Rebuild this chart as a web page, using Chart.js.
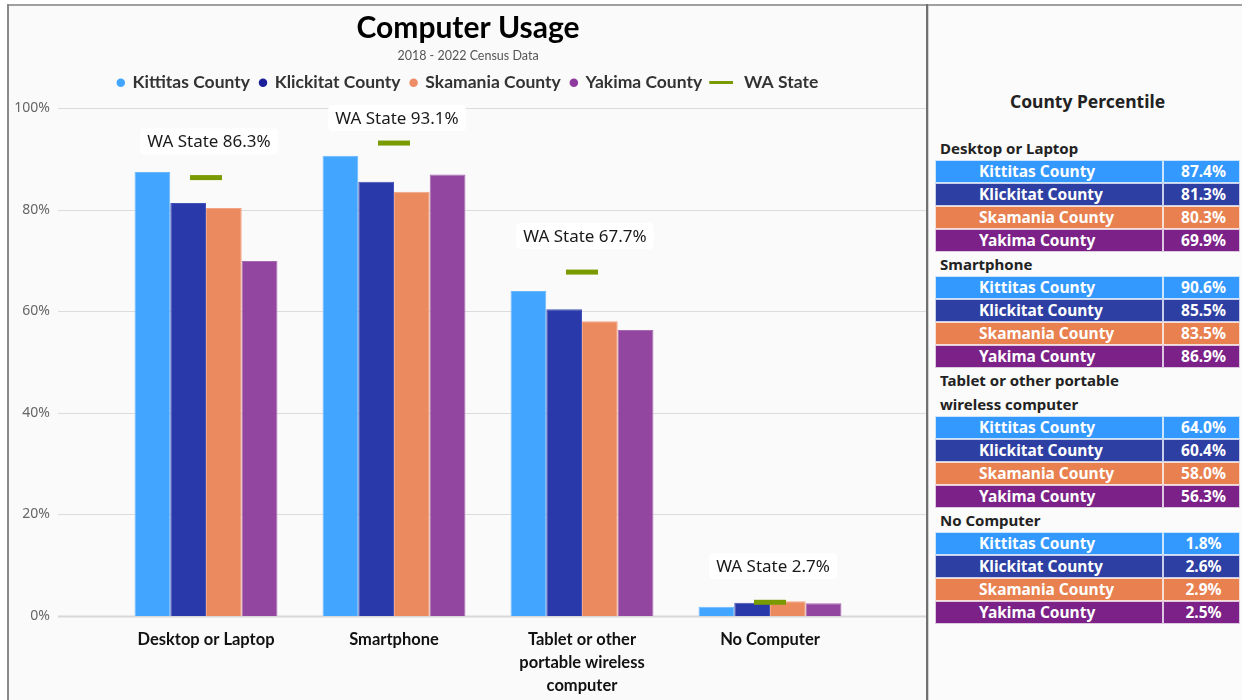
<!DOCTYPE html>
<html>
<head>
<meta charset="utf-8">
<title>Computer Usage</title>
<script src="https://cdn.jsdelivr.net/npm/chart.js@4.4.1/dist/chart.umd.min.js"></script>
<style>
  html, body { margin:0; padding:0; background:#fff; }
  body { width:1242px; height:700px; position:relative; overflow:hidden; font-family:"Noto Sans", sans-serif; }
  #frameTop { position:absolute; left:8px; top:4px; width:1234px; height:2px; background:#a0a0a0; }
  #frameLeft { position:absolute; left:7px; top:4px; width:2px; height:696px; background:#8a8a8a; }
  #leftPanel { position:absolute; left:9px; top:6px; width:917px; height:694px; background:#fafafa; }
  #divider { position:absolute; left:926px; top:4px; width:2px; height:696px; background:#707070; }
  #divider2 { position:absolute; left:928px; top:6px; width:1px; height:694px; background:#d0d0d0; }
  #rightPanel { position:absolute; left:929px; top:6px; width:313px; height:694px; background:#fbfbfb; }
  #chartBox { position:absolute; left:10px; top:6px; width:916px; height:694px; }
  #tbl { position:absolute; left:935px; top:85px; width:305px; }
  #tbl .title { height:32px; line-height:32px; text-align:center; font-size:17.5px; font-weight:bold; color:#222; margin-bottom:19px; }
  #tbl .head { font-size:15px; font-weight:bold; color:#222; line-height:24px; padding-left:5px; width:215px; }
  #tbl .row { display:flex; height:23px; }
  #tbl .name, #tbl .val { box-sizing:border-box; height:23px; line-height:21px; color:#fff; font-weight:bold; font-size:15.5px; border:1px solid rgba(255,255,255,0.75); }
  #tbl .name { width:228px; padding-left:43px; }
  #tbl .val { width:77px; text-align:center; padding-left:4px; }
</style>
</head>
<body>
<div id="leftPanel"></div>
<div id="rightPanel"></div>
<div id="frameTop"></div>
<div id="frameLeft"></div>
<div id="divider"></div>
<div id="divider2"></div>
<div id="chartBox"><canvas id="usageChart" width="916" height="694"></canvas></div>
<div id="tbl"></div>
<script>
// ================= DATA ==================
const categories = ["Desktop or Laptop", "Smartphone", "Tablet or other portable wireless computer", "No Computer"];
const tickLabels = [["Desktop or Laptop"], ["Smartphone"], ["Tablet or other", "portable wireless", "computer"], ["No Computer"]];
const counties = ["Kittitas County", "Klickitat County", "Skamania County", "Yakima County"];
const kittitas  = [87.4, 90.6, 64.0, 1.8];
const klickitat = [81.3, 85.5, 60.4, 2.6];
const skamania  = [80.3, 83.5, 58.0, 2.9];
const yakima    = [69.9, 86.9, 56.3, 2.5];
const waState   = [86.3, 93.1, 67.7, 2.7];
const yTicks    = [0, 20, 40, 60, 80, 100];

// colours
const barColors    = ["#42a5ff", "#2a39a9", "#ec8a5f", "#93469f"];
const barBorders   = ["#6ab8ff", "#4352b6", "#f2a383", "#a868b2"];
const legendColors = ["#42a5ff", "#1c1f9a", "#ee8c66", "#8e3a9e"];
const tableColors  = ["#3399ff", "#2e3fa3", "#e8804f", "#7b2187"];
const waColor = "#7a9a01";

const seriesValues = [kittitas, klickitat, skamania, yakima];
const FONT = "'Noto Sans', sans-serif";
const FONT2 = "Lato, 'Noto Sans', sans-serif";

// ================= LEGEND LINE ICON ==================
// transparent on the left so the line sits clear of the previous item
const lineIcon = document.createElement("canvas");
lineIcon.width = 36; lineIcon.height = 3;
(function(){
  const c = lineIcon.getContext("2d");
  c.fillStyle = waColor;
  c.fillRect(12, 0, 24, 3);
})();

// ================= PLUGINS ==================
const gridPlugin = {
  id: "wideGrid",
  beforeDatasetsDraw(chart){
    const ctx = chart.ctx, y = chart.scales.y;
    ctx.save();
    yTicks.forEach(v=>{
      const py = Math.round(y.getPixelForValue(v)) + 0.5;
      ctx.strokeStyle = v === 0 ? "#d8d8d8" : "#dcdcdc";
      ctx.lineWidth = v === 0 ? 2 : 1;
      ctx.beginPath();
      ctx.moveTo(48, py);
      ctx.lineTo(916, py);
      ctx.stroke();
    });
    ctx.restore();
  }
};

const waLabelPlugin = {
  id: "waLabels",
  afterDatasetsDraw(chart){
    const ctx = chart.ctx;
    const meta = chart.getDatasetMeta(4);
    ctx.save();
    ctx.font = "17px " + FONT;
    ctx.textAlign = "center";
    ctx.textBaseline = "middle";
    meta.data.forEach((pt, i)=>{
      const txt = "WA State " + waState[i].toFixed(1) + "%";
      const w = ctx.measureText(txt).width + 14;
      const cx = pt.x + 3;
      const cy = Math.max(pt.y - 36, chart.chartArea.top + 10);
      ctx.fillStyle = "#ffffff";
      ctx.beginPath();
      ctx.roundRect(cx - w/2, cy - 13, w, 26, 4);
      ctx.fill();
      ctx.fillStyle = "#1a1a1a";
      ctx.fillText(txt, cx, cy + 1);
    });
    ctx.restore();
  }
};

// ================= CHART ==================
const barSets = counties.map((name, i)=>({
  type: "bar",
  label: name,
  data: seriesValues[i],
  backgroundColor: barColors[i],
  borderColor: barBorders[i],
  borderWidth: 1,
  order: 1,
  categoryPercentage: 0.76,
  barPercentage: 1.0
}));

const chart = new Chart(document.getElementById("usageChart"), {
  data: {
    labels: tickLabels,
    datasets: [
      ...barSets,
      {
        type: "line",
        label: "WA State",
        data: waState,
        showLine: false,
        pointStyle: "line",
        pointRadius: 16,
        pointHoverRadius: 16,
        pointBorderWidth: 5,
        borderColor: waColor,
        backgroundColor: waColor,
        order: 0
      }
    ]
  },
  options: {
    responsive: false,
    maintainAspectRatio: false,
    animation: false,
    events: [],
    layout: { padding: 0 },
    plugins: {
      title: {
        display: true,
        text: "Computer Usage",
        color: "#000",
        font: { family: FONT2, size: 30, weight: "bold" },
        padding: { top: 4, bottom: 0 }
      },
      subtitle: {
        display: true,
        text: "2018 - 2022 Census Data",
        color: "#555",
        font: { family: FONT2, size: 12.5 },
        padding: { top: 2, bottom: 1 }
      },
      legend: {
        display: true,
        labels: {
          usePointStyle: true,
          boxWidth: 6,
          boxHeight: 6,
          padding: 10,
          color: "#333",
          font: { family: FONT2, size: 17.5, weight: "bold" },
          generateLabels(ch){
            return ch.data.datasets.map((ds, i)=>{
              const isWa = i === 4;
              return {
                text: isWa ? "    WA State" : ds.label,
                fillStyle: isWa ? waColor : legendColors[i],
                strokeStyle: isWa ? waColor : legendColors[i],
                lineWidth: 0,
                pointStyle: isWa ? lineIcon : "circle",
                fontColor: "#333",
                hidden: false,
                datasetIndex: i
              };
            });
          }
        }
      },
      tooltip: { enabled: false }
    },
    scales: {
      x: {
        offset: true,
        grid: { display: false, drawTicks: false },
        border: { display: false },
        ticks: {
          padding: 12,
          color: "#111",
          font: { family: FONT2, size: 16.5, weight: "bold", lineHeight: 1.4 }
        },
        afterFit(scale){ scale.height = 84; }
      },
      y: {
        min: 0,
        max: 100,
        grid: { display: false, drawTicks: false },
        border: { display: false },
        afterBuildTicks(scale){ scale.ticks = yTicks.map(v=>({ value: v })); },
        ticks: {
          padding: 62,
          color: "#666",
          font: { family: FONT, size: 14 },
          callback: v => v + "%"
        },
        afterFit(scale){ scale.width = 102; }
      },
      // empty right-hand spacer so the plot ends where the reference does
      yRight: {
        position: "right",
        display: true,
        grid: { display: false, drawTicks: false },
        border: { display: false },
        ticks: { display: false },
        afterFit(scale){ scale.width = 62; }
      }
    }
  },
  plugins: [gridPlugin, waLabelPlugin]
});

// legend box height so plot top lands where the reference has it
(function(){
  const lg = chart.legend;
  const orig = lg.fit;
  lg.fit = function(){
    orig.call(lg);
    lg.height = 44;
  };
  chart.update();
})();

// ================= TABLE ==================
function buildTable(){
  const box = document.getElementById("tbl");
  let html = '<div class="title">County Percentile</div>';
  categories.forEach((cat, c)=>{
    html += '<div class="head">' + cat + '</div>';
    counties.forEach((name, i)=>{
      html += '<div class="row">' +
        '<div class="name" style="background:' + tableColors[i] + '">' + name + '</div>' +
        '<div class="val" style="background:' + tableColors[i] + '">' + seriesValues[i][c].toFixed(1) + '%</div>' +
        '</div>';
    });
  });
  box.innerHTML = html;
}
buildTable();
</script>
</body>
</html>
